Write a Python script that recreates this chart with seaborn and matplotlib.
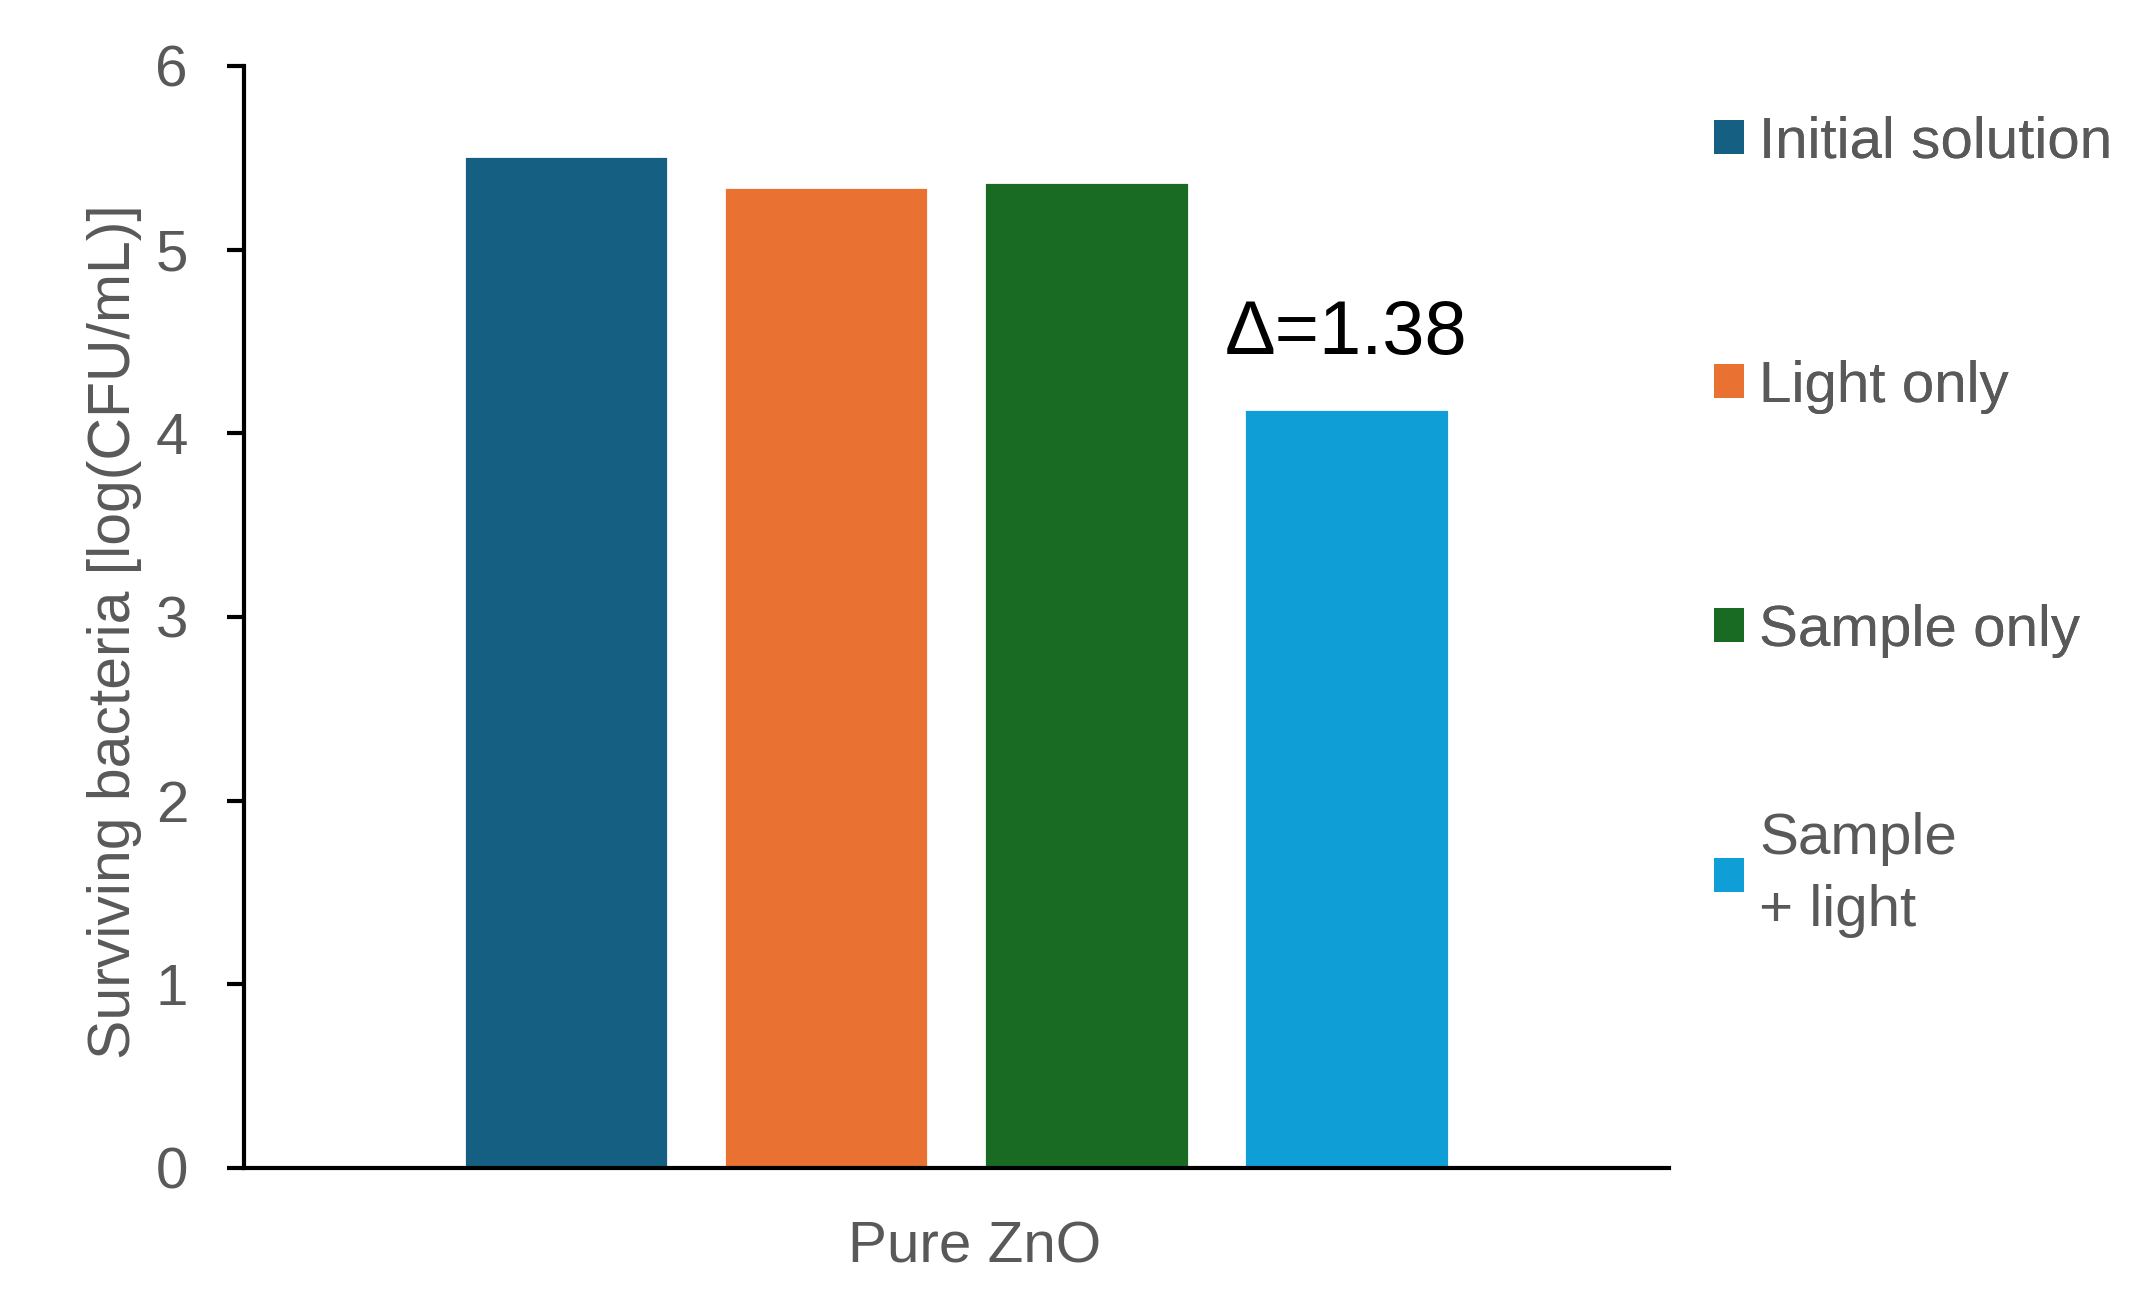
import matplotlib
matplotlib.use("Agg")
import matplotlib.pyplot as plt
import matplotlib.transforms as mtransforms
import seaborn as sns
import pandas as pd
from matplotlib.patches import Patch

# ---- data ----
groups = ["Pure ZnO"]
treatments = ["Initial solution", "Light only", "Sample only", "Sample\n+ light"]
values = [5.51, 5.34, 5.37, 4.13]
colors = ["#156082", "#E97132", "#196B24", "#0F9ED5"]
yticks = [0, 1, 2, 3, 4, 5, 6]

df = pd.DataFrame({
    "group": groups * len(treatments),
    "treatment": treatments,
    "value": values,
})

sns.set_theme(style="white")
plt.rcParams["font.family"] = ["Liberation Sans", "DejaVu Sans"]

fig = plt.figure(figsize=(10.66, 6.56), dpi=200)
ax = fig.add_axes([0.1144, 0.1098, 0.7828 - 0.1144, 0.9497 - 0.1098])

sns.barplot(data=df, x="group", y="value", hue="treatment",
            hue_order=treatments, palette=colors, width=0.73, gap=0.215,
            saturation=1, ax=ax, legend=False, errorbar=None)

ax.set_xlim(-0.5, 0.5)
ax.set_ylim(0, 6)
ax.set_yticks(yticks)
ax.set_yticklabels([str(t) for t in yticks])

grey = "#595959"
for side in ["top", "right"]:
    ax.spines[side].set_visible(False)
for side in ["left", "bottom"]:
    ax.spines[side].set_color("black")
    ax.spines[side].set_linewidth(1.5)

ax.tick_params(axis="y", which="major", direction="out", length=6.1, width=1.5,
               color="black", labelcolor=grey, labelsize=21, pad=14, left=True)
ax.tick_params(axis="x", length=0, labelcolor=grey, labelsize=21, pad=19)

# slight rightward offset of the category label, as in the reference
offset = mtransforms.ScaledTranslation(18 / 200, 0, fig.dpi_scale_trans)
for lab in ax.get_xticklabels():
    lab.set_transform(lab.get_transform() + offset)

ax.set_xlabel("")
ax.set_ylabel("Surviving bacteria [log(CFU/mL)]", fontsize=21.2, color=grey, labelpad=5)
ax.yaxis.label.set_y(0.487)

# delta annotation above last bar
last = ax.patches[len(treatments) - 1]
delta = values[0] - values[-1]
ax.text(last.get_x() + last.get_width() / 2, values[-1] + 0.3, f"Δ={delta:.2f}",
        ha="center", va="baseline", fontsize=27.3, color="black")

handles = [Patch(facecolor=c, edgecolor="none") for c in colors]
common = dict(frameon=False, fontsize=21, handlelength=0.52, handleheight=0.52,
              handletextpad=0.25, borderpad=0, borderaxespad=0)
leg1 = fig.legend(handles[:3], treatments[:3], loc="upper left",
                  bbox_to_anchor=(0.804, 0.912), labelspacing=3.26, **common)
for t in leg1.get_texts():
    t.set_color(grey)
fig.add_artist(leg1)
leg2 = fig.legend(handles[3:], treatments[3:], loc="center left",
                  bbox_to_anchor=(0.804, 0.333), **common)
for t in leg2.get_texts():
    t.set_color(grey)
    t.set_linespacing(1.44)

fig.savefig("out.png", dpi=200)
